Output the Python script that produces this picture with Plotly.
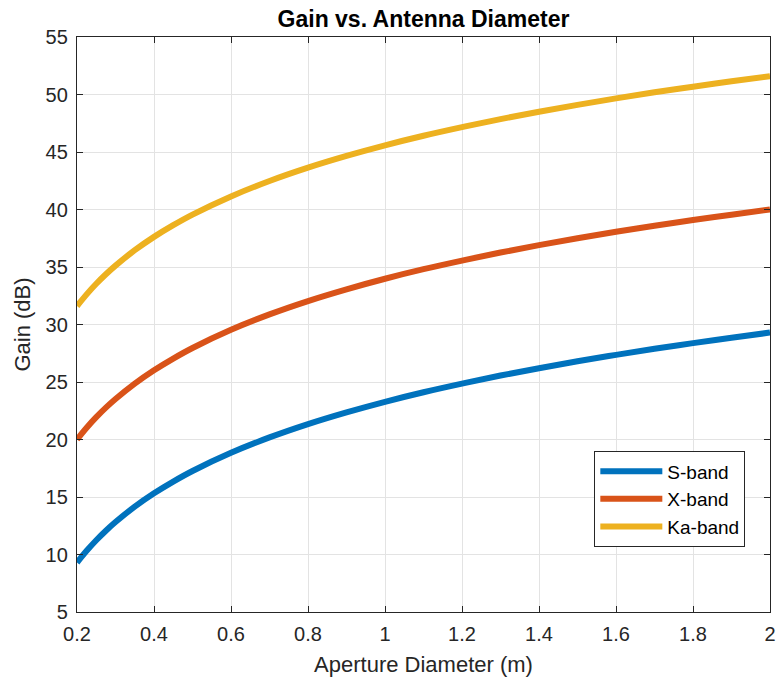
import plotly.graph_objects as go

diameter = [0.2, 0.225, 0.25, 0.275, 0.3, 0.35, 0.4, 0.45, 0.5, 0.6, 0.7, 0.8, 0.9,
            1.0, 1.1, 1.2, 1.3, 1.4, 1.5, 1.6, 1.7, 1.8, 1.9, 2.0]
s_band = [9.30, 10.32, 11.24, 12.07, 12.82, 14.16, 15.32, 16.34, 17.26, 18.84, 20.18, 21.34, 22.36,
          23.28, 24.11, 24.86, 25.56, 26.20, 26.80, 27.36, 27.89, 28.38, 28.85, 29.30]
x_band = [20.00, 21.02, 21.94, 22.77, 23.52, 24.86, 26.02, 27.04, 27.96, 29.54, 30.88, 32.04, 33.06,
          33.98, 34.81, 35.56, 36.26, 36.90, 37.50, 38.06, 38.59, 39.08, 39.55, 40.00]
ka_band = [31.60, 32.62, 33.54, 34.37, 35.12, 36.46, 37.62, 38.64, 39.56, 41.14, 42.48, 43.64, 44.66,
           45.58, 46.41, 47.16, 47.86, 48.50, 49.10, 49.66, 50.19, 50.68, 51.15, 51.60]

series_names = ["S-band", "X-band", "Ka-band"]
series_values = [s_band, x_band, ka_band]
colors = ["#0072BD", "#D95319", "#EDB120"]

x_ticks = [0.2, 0.4, 0.6, 0.8, 1.0, 1.2, 1.4, 1.6, 1.8, 2.0]
x_tick_labels = ["0.2", "0.4", "0.6", "0.8", "1", "1.2", "1.4", "1.6", "1.8", "2"]
y_ticks = [5, 10, 15, 20, 25, 30, 35, 40, 45, 50, 55]

FONT = "Liberation Sans, Arial, Helvetica, sans-serif"
AX = "#262626"

fig = go.Figure()
for name, vals, c in zip(series_names, series_values, colors):
    fig.add_trace(go.Scatter(
        x=diameter, y=vals, name=name, mode="lines",
        line=dict(color=c, width=6, shape="spline", smoothing=1.0),
    ))

axis_common = dict(
    showline=True, linecolor=AX, linewidth=1.3, mirror="ticks",
    ticks="inside", ticklen=6, tickcolor=AX, tickwidth=1.3,
    showgrid=True, gridcolor="#e3e3e3", gridwidth=1,
    zeroline=False, automargin=False,
    tickfont=dict(family=FONT, size=20, color=AX),
)

fig.update_layout(
    width=780, height=683,
    margin=dict(l=77, r=10, t=37, b=71, autoexpand=False),
    paper_bgcolor="white", plot_bgcolor="white",
    title=dict(text="<b>Gain vs. Antenna Diameter</b>", x=0.5, xref="paper",
               y=1 - 19 / 683, yref="container", yanchor="middle",
               font=dict(family=FONT, size=23, color="#000000")),
    xaxis=dict(range=[0.2, 2.0], tickvals=x_ticks, ticktext=x_tick_labels,
               ticklabelstandoff=4,
               title=dict(text="Aperture Diameter (m)", standoff=12,
                          font=dict(family=FONT, size=22, color=AX)),
               **axis_common),
    yaxis=dict(range=[5, 55], tickvals=y_ticks,
               title=dict(text="Gain (dB)", standoff=8,
                          font=dict(family=FONT, size=22, color=AX)),
               ticklabelstandoff=4,
               **axis_common),
    legend=dict(x=0.7465, y=0.2795, xanchor="left", yanchor="top",
                bgcolor="white", bordercolor=AX, borderwidth=1,
                font=dict(family=FONT, size=19, color="#000000"),
                itemwidth=62, tracegroupgap=0),
    showlegend=True,
)

fig.write_html("out.html")
